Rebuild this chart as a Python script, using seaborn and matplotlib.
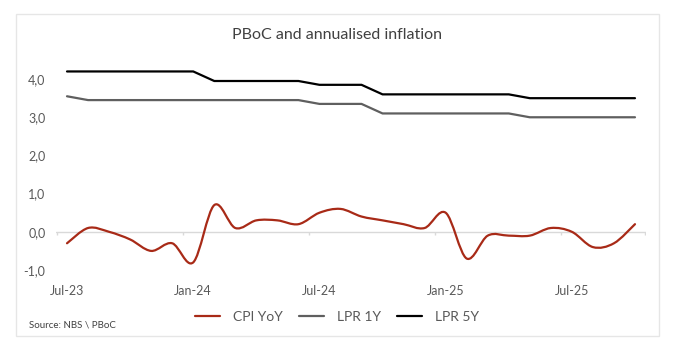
import numpy as np
import pandas as pd
import matplotlib
matplotlib.use("Agg")
import matplotlib.pyplot as plt
import seaborn as sns
from matplotlib.path import Path
from matplotlib.patches import PathPatch, Rectangle
from matplotlib.lines import Line2D

# ---------------- data ----------------
months = ["Jul-23", "Aug-23", "Sep-23", "Oct-23", "Nov-23", "Dec-23",
          "Jan-24", "Feb-24", "Mar-24", "Apr-24", "May-24", "Jun-24",
          "Jul-24", "Aug-24", "Sep-24", "Oct-24", "Nov-24", "Dec-24",
          "Jan-25", "Feb-25", "Mar-25", "Apr-25", "May-25", "Jun-25",
          "Jul-25", "Aug-25", "Sep-25", "Oct-25"]
cpi_yoy = [-0.3, 0.1, 0.0, -0.2, -0.5, -0.3,
           -0.8, 0.7, 0.1, 0.3, 0.3, 0.2,
           0.5, 0.6, 0.4, 0.3, 0.2, 0.1,
           0.5, -0.7, -0.1, -0.1, -0.1, 0.1,
           0.0, -0.4, -0.3, 0.2]
lpr_1y = [3.55, 3.45, 3.45, 3.45, 3.45, 3.45,
          3.45, 3.45, 3.45, 3.45, 3.45, 3.45,
          3.35, 3.35, 3.35, 3.10, 3.10, 3.10,
          3.10, 3.10, 3.10, 3.10, 3.00, 3.00,
          3.00, 3.00, 3.00, 3.00]
lpr_5y = [4.20, 4.20, 4.20, 4.20, 4.20, 4.20,
          4.20, 3.95, 3.95, 3.95, 3.95, 3.95,
          3.85, 3.85, 3.85, 3.60, 3.60, 3.60,
          3.60, 3.60, 3.60, 3.60, 3.50, 3.50,
          3.50, 3.50, 3.50, 3.50]
xtick_labels = ["Jul-23", "Jan-24", "Jul-24", "Jan-25", "Jul-25"]
ytick_values = [-1, 0, 1, 2, 3, 4]
ytick_labels = ["-1,0", "0,0", "1,0", "2,0", "3,0", "4,0"]
series_names = ["CPI YoY", "LPR 1Y", "LPR 5Y"]
title = "PBoC and annualised inflation"
source = "Source: NBS \\ PBoC"

# ---------------- style ----------------
sns.set_style("white")
plt.rcParams["font.family"] = ["Lato", "DejaVu Sans"]
text_col = "#595959"
c_cpi, c_1y, c_5y = "#a82a17", "#5f5f5f", "#000000"
lw = 1.6

df = pd.DataFrame({"idx": np.arange(len(months)), "month": months,
                   "cpi": cpi_yoy, "lpr1y": lpr_1y, "lpr5y": lpr_5y})

fig = plt.figure(figsize=(6.88, 3.57), dpi=100)
ax = fig.add_axes([56.5 / 688, (357 - 270) / 357, (645.5 - 56.5) / 688, (270 - 60) / 357])

# zero line and separators
ax.axhline(0, color="#d9d9d9", lw=1, zorder=1)
sep = np.arange(-0.5, len(months), 6)
sep = np.append(sep, len(months) - 0.5)
ax.vlines(sep, -0.09, 0, color="#d9d9d9", lw=1, zorder=1)

# LPR lines via seaborn
sns.lineplot(data=df, x="idx", y="lpr1y", ax=ax, color=c_1y, lw=lw, zorder=3)
sns.lineplot(data=df, x="idx", y="lpr5y", ax=ax, color=c_5y, lw=lw, zorder=3)

# CPI as smoothed (Excel-style Bezier) line through the data points
x = df["idx"].to_numpy(dtype=float)
y = df["cpi"].to_numpy(dtype=float)
pts = np.column_stack([x, y])
ext = np.vstack([pts[0], pts, pts[-1]])
verts = [tuple(pts[0])]
codes = [Path.MOVETO]
for i in range(len(pts) - 1):
    p0, p1, p2, p3 = ext[i], ext[i + 1], ext[i + 2], ext[i + 3]
    c1 = p1 + (p2 - p0) / 6.0
    c2 = p2 - (p3 - p1) / 6.0
    verts += [tuple(c1), tuple(c2), tuple(p2)]
    codes += [Path.CURVE4] * 3
ax.add_patch(PathPatch(Path(verts, codes), fill=False, edgecolor=c_cpi,
                       lw=lw, zorder=4, capstyle="round", joinstyle="round"))

ax.set_xlim(-0.5, len(months) - 0.5)
ax.set_ylim(-1.0, 4.5)
ax.set_xticks([months.index(m) for m in xtick_labels])
ax.set_xticklabels(xtick_labels)
ax.set_yticks(ytick_values)
ax.set_yticklabels(ytick_labels)
ax.tick_params(axis="x", length=0, pad=11, labelsize=9, labelcolor=text_col)
ax.tick_params(axis="y", length=0, pad=8, labelsize=9, labelcolor=text_col)
ax.set_xlabel("")
ax.set_ylabel("")
for s in ax.spines.values():
    s.set_visible(False)

# title, legend, source
fig.text(337 / 688, 1 - 35 / 357, title, ha="center", va="center",
         fontsize=11.5, color="#404040")
handles = [Line2D([], [], color=c_cpi, lw=lw),
           Line2D([], [], color=c_1y, lw=lw),
           Line2D([], [], color=c_5y, lw=lw)]
fig.legend(handles, series_names, loc="center", bbox_to_anchor=(337 / 688, 1 - 317 / 357),
           ncol=3, frameon=False, fontsize=10, handlelength=1.8, handletextpad=0.9,
           columnspacing=1.2, labelcolor=text_col)
fig.text(29 / 688, 1 - 325 / 357, source, ha="left", va="center",
         fontsize=7, color="#404040")

# outer border
fig.patches.append(Rectangle((16 / 688, (357 - 336) / 357), (659 - 16) / 688,
                             (336 - 14) / 357, transform=fig.transFigure,
                             fill=False, edgecolor="#e6e6e6", lw=1))

fig.savefig("out.png", dpi=100)
